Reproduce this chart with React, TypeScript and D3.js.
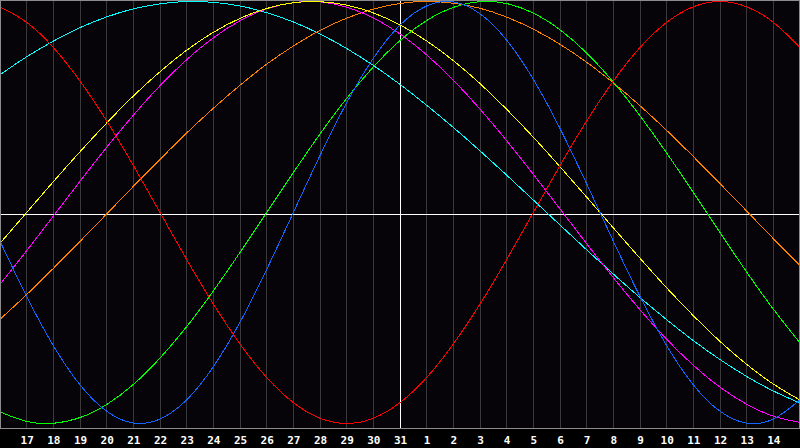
import React from "react";
import * as d3 from "d3";

// Day positions (index 0 = the 16th at the left edge, 30 = the 15th at the right edge)
const DAY_INDEX = [0, 1, 2, 3, 4, 5, 6, 7, 8, 9, 10, 11, 12, 13, 14, 15, 16, 17, 18, 19, 20, 21, 22, 23, 24, 25, 26, 27, 28, 29, 30];

// Tick labels at gridlines 1..29
const TICK_INDEX = [1, 2, 3, 4, 5, 6, 7, 8, 9, 10, 11, 12, 13, 14, 15, 16, 17, 18, 19, 20, 21, 22, 23, 24, 25, 26, 27, 28, 29];
const TICK_LABELS = ["17", "18", "19", "20", "21", "22", "23", "24", "25", "26", "27", "28", "29", "30", "31", "1", "2", "3", "4", "5", "6", "7", "8", "9", "10", "11", "12", "13", "14"];

// Series values (-1..1) read at every day
const RED = [0.975, 0.901, 0.782, 0.623, 0.434, 0.223, 0.0, -0.223, -0.434, -0.623, -0.782, -0.901, -0.975, -1.0, -0.975, -0.901, -0.782, -0.623, -0.434, -0.223, 0.0, 0.223, 0.434, 0.623, 0.782, 0.901, 0.975, 1.0, 0.975, 0.901, 0.782];
const BLUE = [-0.136, -0.398, -0.631, -0.817, -0.942, -0.998, -0.979, -0.888, -0.731, -0.52, -0.27, 0.0, 0.27, 0.52, 0.731, 0.888, 0.979, 0.998, 0.942, 0.817, 0.631, 0.398, 0.136, -0.136, -0.398, -0.631, -0.817, -0.942, -0.998, -0.979, -0.888];
const GREEN = [-0.945, -0.99, -0.999, -0.972, -0.91, -0.815, -0.69, -0.541, -0.372, -0.189, 0.0, 0.189, 0.372, 0.541, 0.69, 0.815, 0.91, 0.972, 0.999, 0.99, 0.945, 0.866, 0.756, 0.618, 0.458, 0.282, 0.095, -0.095, -0.282, -0.458, -0.618];
const CYAN = [0.653, 0.738, 0.812, 0.876, 0.927, 0.965, 0.989, 1.0, 0.996, 0.979, 0.947, 0.903, 0.846, 0.777, 0.697, 0.607, 0.508, 0.403, 0.292, 0.177, 0.059, -0.059, -0.177, -0.292, -0.403, -0.508, -0.607, -0.697, -0.777, -0.846, -0.903];
const YELLOW = [-0.146, 0.0, 0.146, 0.288, 0.424, 0.552, 0.667, 0.769, 0.854, 0.92, 0.967, 0.994, 0.999, 0.983, 0.946, 0.889, 0.813, 0.72, 0.611, 0.489, 0.357, 0.217, 0.073, -0.073, -0.217, -0.357, -0.489, -0.611, -0.72, -0.813, -0.889];
const MAGENTA = [-0.34, -0.181, -0.017, 0.148, 0.309, 0.461, 0.601, 0.724, 0.828, 0.909, 0.965, 0.995, 0.998, 0.973, 0.922, 0.846, 0.747, 0.627, 0.49, 0.34, 0.181, 0.017, -0.148, -0.309, -0.461, -0.601, -0.724, -0.828, -0.909, -0.965, -0.995];
const ORANGE = [-0.506, -0.389, -0.265, -0.137, -0.007, 0.124, 0.252, 0.377, 0.494, 0.603, 0.703, 0.789, 0.863, 0.921, 0.964, 0.991, 1.0, 0.992, 0.968, 0.926, 0.869, 0.797, 0.712, 0.614, 0.506, 0.389, 0.265, 0.137, 0.007, -0.124, -0.252];

const SERIES = [
  { name: "cyan", values: CYAN, color: "#00ffff" },
  { name: "orange", values: ORANGE, color: "#ff8000" },
  { name: "magenta", values: MAGENTA, color: "#ff00ff" },
  { name: "yellow", values: YELLOW, color: "#ffff00" },
  { name: "green", values: GREEN, color: "#00ff00" },
  { name: "blue", values: BLUE, color: "#1166ff" },
  { name: "red", values: RED, color: "#ff0000" },
];

const W = 800;
const H = 448;
const PLOT_H = 428;

export default function App() {
  const x = d3.scaleLinear().domain([0, 30]).range([0, W]);
  const y = d3.scaleLinear().domain([-1, 1]).range([423.5, 1.5]);
  const line = d3
    .line<number>()
    .x((_, i) => x(DAY_INDEX[i]))
    .y((v) => y(v))
    .curve(d3.curveNatural);

  const centerX = x(15);
  const centerY = PLOT_H / 2;

  return (
    <svg
      width={W}
      height={H}
      style={{ position: "absolute", left: 0, top: 0, display: "block" }}
    >
      <rect x={0} y={0} width={W} height={H} fill="#000000" />
      <rect x={0} y={0} width={W} height={PLOT_H} fill="#060408" />
      <g shapeRendering="crispEdges">
        {TICK_INDEX.map((t) => (
          <line
            key={t}
            x1={Math.floor(x(t)) + 0.5}
            x2={Math.floor(x(t)) + 0.5}
            y1={0}
            y2={PLOT_H}
            stroke="#3a3a3a"
            strokeWidth={1}
          />
        ))}
      </g>
      <g shapeRendering="crispEdges">
        <line x1={0} x2={W} y1={centerY + 0.5} y2={centerY + 0.5} stroke="#ffffff" strokeWidth={1} />
        <line x1={centerX + 0.5} x2={centerX + 0.5} y1={0} y2={PLOT_H} stroke="#ffffff" strokeWidth={1} />
      </g>
      <g clipPath="url(#plotclip)">
        <defs>
          <clipPath id="plotclip">
            <rect x={0} y={0} width={W} height={PLOT_H} />
          </clipPath>
        </defs>
        {SERIES.map((s) => (
          <path
            key={s.name}
            d={line(s.values) || ""}
            fill="none"
            stroke={s.color}
            strokeWidth={1}
            shapeRendering="crispEdges"
          />
        ))}
      </g>
      <g shapeRendering="crispEdges" fill="none" stroke="#8c8c8c" strokeWidth={1}>
        <line x1={0.5} x2={0.5} y1={0} y2={PLOT_H} />
        <line x1={0} x2={W} y1={0.5} y2={0.5} />
        <line x1={W - 0.5} x2={W - 0.5} y1={0} y2={PLOT_H} />
        <line x1={0} x2={W} y1={PLOT_H + 0.5} y2={PLOT_H + 0.5} />
      </g>
      <g>
        {TICK_INDEX.map((t, i) => (
          <text
            key={t}
            x={x(t) + 0.5}
            y={443.5}
            textAnchor="middle"
            fill="#ffffff"
            fontFamily="'DejaVu Sans Mono', monospace"
            fontWeight="bold"
            fontSize={11}
          >
            {TICK_LABELS[i]}
          </text>
        ))}
      </g>
    </svg>
  );
}
